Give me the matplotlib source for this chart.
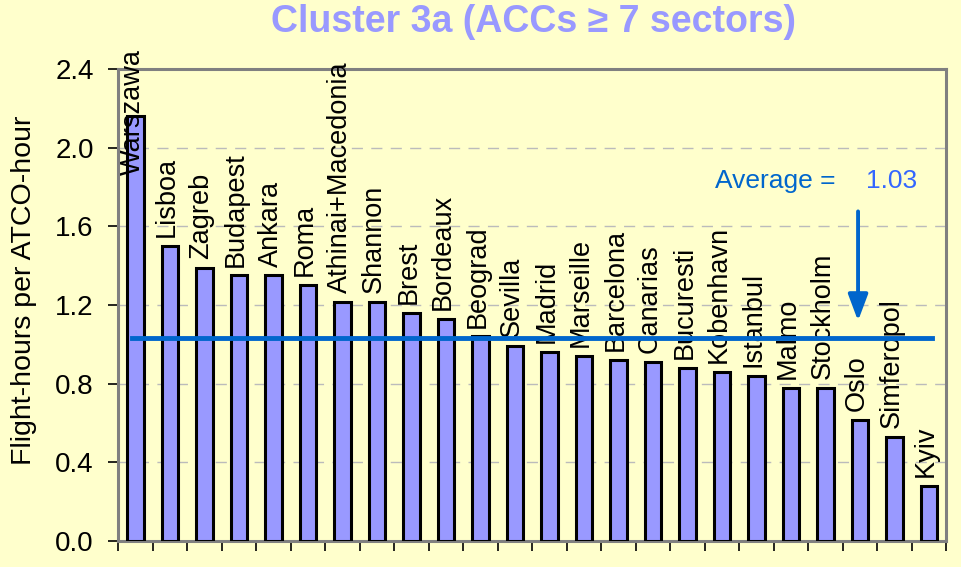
import matplotlib.pyplot as plt
import numpy as np

# Data
CENTRES = ["Warszawa", "Lisboa", "Zagreb", "Budapest", "Ankara", "Roma",
           "Athinai+Macedonia", "Shannon", "Brest", "Bordeaux", "Beograd",
           "Sevilla", "Madrid", "Marseille", "Barcelona", "Canarias",
           "Bucuresti", "Kobenhavn", "Istanbul", "Malmo", "Stockholm",
           "Oslo", "Simferopol", "Kyiv"]
VALUES = [2.16, 1.50, 1.39, 1.35, 1.35, 1.30,
          1.215, 1.215, 1.16, 1.13, 1.04,
          0.99, 0.96, 0.94, 0.92, 0.91,
          0.88, 0.86, 0.84, 0.78, 0.78,
          0.615, 0.53, 0.28]
AVERAGE = 1.03
Y_TICKS = [0.0, 0.4, 0.8, 1.2, 1.6, 2.0, 2.4]

BG = "#FFFFCC"
BAR = "#9999FF"
LINE_BLUE = "#0066CC"

plt.rcParams["font.family"] = ["Liberation Sans", "DejaVu Sans"]

fig = plt.figure(figsize=(9.62, 5.67), dpi=100, facecolor=BG)
ax = fig.add_axes([0.1227, 0.0459, 0.8607, 0.8324], facecolor=BG)

x = np.arange(len(CENTRES))
ax.bar(x, VALUES, width=0.48, color=BAR, edgecolor="black", linewidth=2.2, zorder=3)

# labels above each bar (Warszawa sits over its own bar, as in the original)
for i, (name, v) in enumerate(zip(CENTRES, VALUES)):
    y0 = v + 0.045
    if name == "Warszawa":
        y0 = 1.86
    ax.text(i - 0.08, y0, name, rotation=90, ha="center", va="bottom",
            fontsize=19.5, zorder=4, clip_on=False)

# average line + annotation
ax.plot([x[0] - 0.1, x[-1] + 0.1], [AVERAGE, AVERAGE], color=LINE_BLUE, lw=3.5, zorder=5)
ax.annotate("", xy=(20.95, 1.105), xytext=(20.95, 1.69),
            arrowprops=dict(arrowstyle="-|>,head_width=0.3,head_length=0.8",
                            color=LINE_BLUE, lw=2.8, mutation_scale=20), zorder=5)
ax.text(18.56, 1.83, "Average =", color=LINE_BLUE, fontsize=19, ha="center", va="center")
ax.text(21.92, 1.83, f"{AVERAGE:.2f}", color="#3366FF", fontsize=19, ha="center", va="center")

ax.set_xlim(-0.5, len(CENTRES) - 0.5)
ax.set_ylim(0, 2.4)
ax.set_yticks(Y_TICKS)
ax.set_yticklabels([f"{t:.1f}" for t in Y_TICKS], fontsize=20)
ax.set_xticks(np.arange(len(CENTRES) + 1) - 0.5)
ax.set_xticklabels([])
ax.tick_params(axis="both", direction="out", length=7.5, width=1.2, color="black")
ax.tick_params(axis="y", pad=10)

ax.grid(axis="y", color="#BBBBBB", linestyle=(0, (8, 6)), lw=1.0, zorder=1)
for side in ["top", "right", "left", "bottom"]:
    ax.spines[side].set_color("#808080")
    ax.spines[side].set_linewidth(2.2)

fig.text(24 / 962, 1 - 290 / 567, "Flight-hours per ATCO-hour", rotation=90,
         fontsize=20.5, ha="center", va="center")
fig.text(0.5546, 0.962, "Cluster 3a (ACCs \u2265 7 sectors)", color=BAR,
         fontsize=27, fontweight="bold", ha="center", va="center")

fig.savefig("out.png", dpi=100, facecolor=BG)
